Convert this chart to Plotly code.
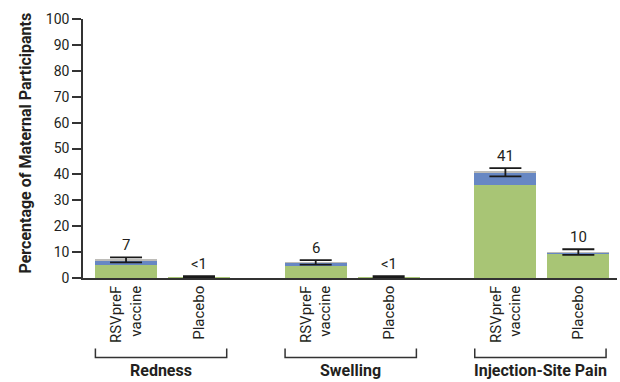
import plotly.graph_objects as go

# Local and systemic reactions: percentage of maternal participants
groups = ["Redness", "Swelling", "Injection-Site Pain"]
arms = ["RSVpreF<br>vaccine", "Placebo"]

# Stacked severity components per bar (group-major order: vaccine, placebo)
mild = [5.0, 0.3, 4.5, 0.3, 36.1, 9.5]
moderate = [1.8, 0.0, 1.3, 0.0, 4.6, 0.3]
severe = [0.2, 0.0, 0.2, 0.0, 0.3, 0.2]

# Overall value and 95% confidence limits
totals = [7.0, 0.3, 6.0, 0.3, 41.0, 10.0]
ci_low = [6.0, 0.1, 5.2, 0.1, 39.2, 8.9]
ci_high = [8.0, 0.7, 6.9, 0.7, 42.4, 11.1]
value_labels = ["7", "<1", "6", "<1", "41", "10"]

y_ticks = [0, 10, 20, 30, 40, 50, 60, 70, 80, 90, 100]

GROUP_STEP = 2.6
positions = [g * GROUP_STEP + k for g in range(len(groups)) for k in range(len(arms))]
tick_text = [a for _ in groups for a in arms]

FONT = "Roboto, Arial, sans-serif"
TEXT = "#231f20"
GREEN = "#a8c575"
BLUE = "#6787c3"
GREY = "#bdbcb8"

fig = go.Figure()
for vals, col in [(mild, GREEN), (moderate, BLUE), (severe, GREY)]:
    fig.add_trace(go.Bar(x=positions, y=vals, marker=dict(color=col, line=dict(width=0)),
                         width=0.85, showlegend=False, hoverinfo="skip"))

fig.add_trace(go.Scatter(
    x=positions, y=totals, mode="markers",
    marker=dict(size=1, color="rgba(0,0,0,0)"),
    error_y=dict(type="data", symmetric=False,
                 array=[h - t for h, t in zip(ci_high, totals)],
                 arrayminus=[t - l for l, t in zip(ci_low, totals)],
                 color="#1a1a1a", thickness=1.8, width=16),
    showlegend=False, hoverinfo="skip"))

annotations = []
for x, top, lab in zip(positions, ci_high, value_labels):
    annotations.append(dict(x=x, y=top, xref="x", yref="y", text=lab, showarrow=False,
                            yanchor="bottom", yshift=1,
                            font=dict(family=FONT, size=15, color=TEXT)))

shapes = []
for g, name in enumerate(groups):
    x0 = g * GROUP_STEP - 0.42
    x1 = g * GROUP_STEP + 1.38
    shapes.append(dict(type="path", xref="x", yref="paper",
                       path=f"M {x0},-0.272 L {x0},-0.307 L {x1},-0.307 L {x1},-0.272",
                       line=dict(color="#333333", width=1.5)))
    annotations.append(dict(x=(x0 + x1) / 2, y=-0.358, xref="x", yref="paper", text=f"<b>{name}</b>",
                            showarrow=False, yanchor="middle",
                            font=dict(family=FONT, size=16, color=TEXT)))

annotations.append(dict(x=0, y=0.5, xref="paper", yref="paper",
                        text="<b>Percentage of Maternal Participants</b>", textangle=-90,
                        showarrow=False, xanchor="center", yanchor="middle", xshift=-58, yshift=5,
                        font=dict(family=FONT, size=16, color=TEXT)))

fig.update_layout(
    width=620, height=382,
    margin=dict(l=83, r=3, t=19, b=104),
    barmode="stack", bargap=0,
    plot_bgcolor="white", paper_bgcolor="white",
    font=dict(family=FONT, color=TEXT, size=14),
    annotations=annotations, shapes=shapes,
    xaxis=dict(range=[-0.59, 6.73], tickvals=positions, ticktext=tick_text, tickangle=-90,
               showline=True, linecolor="#333333", linewidth=1.5, ticks="", showgrid=False,
               zeroline=False, tickfont=dict(family=FONT, size=15, color=TEXT)),
    yaxis=dict(range=[0, 100], tickvals=y_ticks, showline=True, linecolor="#333333", linewidth=1.5,
               ticks="outside", ticklen=9, tickwidth=1.5, tickcolor="#333333", showgrid=False,
               zeroline=False, tickfont=dict(family=FONT, size=14, color=TEXT)),
)

fig.write_html("out.html")
